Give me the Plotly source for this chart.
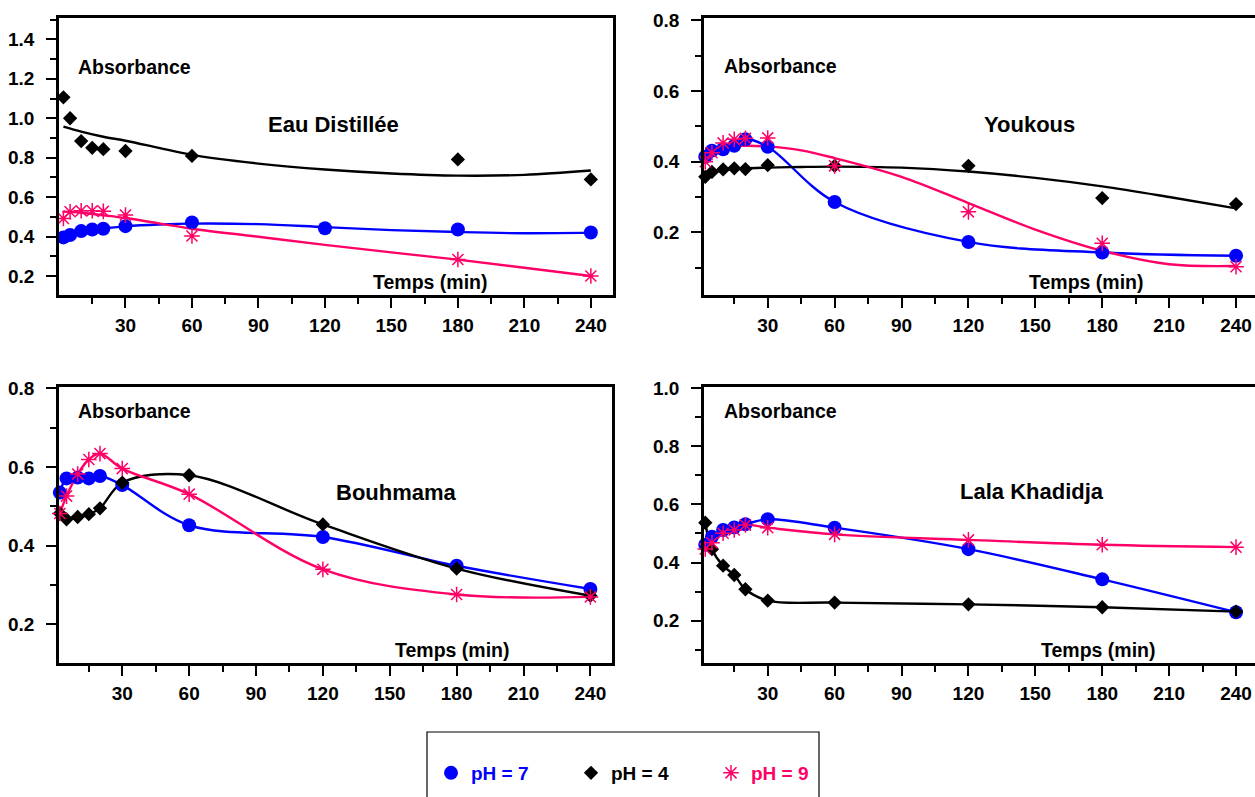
import plotly.graph_objects as go

# ---------------- data ----------------
TIME = [2, 5, 10, 15, 20, 30, 60, 120, 180, 240]
FIT_T = [2, 10, 20, 30, 45, 60, 90, 120, 150, 180, 210, 240]

# Eau Distillée
EAU_PH7 = [0.396, 0.408, 0.428, 0.436, 0.440, 0.453, 0.472, 0.442, 0.436, 0.421]
EAU_PH4 = [1.106, 1.000, 0.884, 0.850, 0.843, 0.834, 0.809, None, 0.791, 0.690]
EAU_PH9 = [0.492, 0.526, 0.531, 0.531, 0.528, 0.509, 0.403, None, 0.284, 0.200]
EAU_PH7_FIT = [0.398, 0.428, 0.442, 0.452, 0.461, 0.466, 0.463, 0.448, 0.433, 0.423, 0.417, 0.420]
EAU_PH4_FIT = [0.957, 0.932, 0.906, 0.886, 0.850, 0.814, 0.770, 0.740, 0.720, 0.709, 0.713, 0.735]
EAU_PH9_FIT = [0.528, 0.521, 0.508, 0.494, 0.467, 0.440, 0.399, 0.358, 0.320, 0.283, 0.242, 0.200]

# Youkous
YOU_PH7 = [0.414, 0.431, 0.435, 0.445, 0.463, 0.442, 0.286, 0.173, 0.143, 0.134]
YOU_PH4 = [0.357, 0.371, 0.378, 0.381, 0.379, 0.390, 0.388, 0.388, 0.297, 0.280]
YOU_PH9 = [0.400, 0.425, 0.453, 0.463, 0.466, 0.467, 0.388, 0.258, 0.169, 0.103]
YOU_PH4_FIT = [0.360, 0.376, 0.381, 0.383, 0.385, 0.386, 0.383, 0.372, 0.354, 0.330, 0.300, 0.268]
YOU_PH9_FIT = [0.437, 0.442, 0.445, 0.443, 0.432, 0.410, 0.357, 0.283, 0.208, 0.148, 0.110, 0.105]

# Bouhmama
BOU_PH7 = [0.535, 0.571, 0.573, 0.571, 0.577, 0.554, 0.452, 0.422, 0.349, 0.290]
BOU_PH4 = [0.482, 0.467, 0.473, 0.480, 0.495, 0.560, 0.579, 0.454, 0.342, 0.273]
BOU_PH9 = [0.482, 0.526, 0.582, 0.619, 0.634, 0.596, 0.531, 0.340, 0.276, 0.270]

# Lala Khadidja
LAL_PH7 = [0.461, 0.489, 0.512, 0.521, 0.532, 0.549, 0.520, 0.446, 0.342, 0.229]
LAL_PH4 = [0.537, 0.446, 0.389, 0.357, 0.308, 0.269, 0.262, 0.256, 0.246, 0.231]
LAL_PH9 = [0.447, 0.468, 0.501, 0.512, 0.529, 0.520, 0.497, 0.478, 0.461, 0.453]

PANEL_TITLES = ["Eau Distillée", "Youkous", "Bouhmama", "Lala Khadidja"]
SERIES_NAMES = ["pH = 7", "pH = 4", "pH = 9"]
X_MAJOR = [30, 60, 90, 120, 150, 180, 210, 240]
X_MINOR = [15, 45, 75, 105, 135, 165, 195, 225]
Y_LABEL = "Absorbance"
X_LABEL = "Temps (min)"

# ---------------- style ----------------
W, H = 1255, 797
FONT = "Liberation Sans, Arial, sans-serif"
BLUE, BLACK, PINK = "#0000FF", "#000000", "#FF0066"
COLORS = [BLUE, BLACK, PINK]

def px_x(p):
    return p / W

def px_y(p):
    return 1 - p / H

panels = [
    dict(data=(EAU_PH7, EAU_PH4, EAU_PH9),
         curves=((FIT_T, EAU_PH7_FIT), (FIT_T, EAU_PH4_FIT), (FIT_T, EAU_PH9_FIT)),
         xd=(59, 613), yd=(18, 295), xr=[0, 250], yr=[0.104, 1.508],
         ymaj=[0.2, 0.4, 0.6, 0.8, 1.0, 1.2, 1.4], ymin=[0.3, 0.5, 0.7, 0.9, 1.1, 1.3, 1.5],
         title=(333.5, 125), absp=(76, 67), temp=(371, 282)),
    dict(data=(YOU_PH7, YOU_PH4, YOU_PH9),
         curves=((TIME, YOU_PH7), (FIT_T, YOU_PH4_FIT), (FIT_T, YOU_PH9_FIT)),
         xd=(704, 1255), yd=(18, 295), xr=[1.43, 248.5], yr=[0.023, 0.806],
         ymaj=[0.2, 0.4, 0.6, 0.8], ymin=[0.1, 0.3, 0.5, 0.7],
         title=(1029, 124), absp=(722, 66), temp=(1027, 282)),
    dict(data=(BOU_PH7, BOU_PH4, BOU_PH9),
         curves=((TIME, BOU_PH7), (TIME, BOU_PH4), (TIME, BOU_PH9)),
         xd=(59, 612), yd=(386.7, 663), xr=[1.62, 249.7], yr=[0.102, 0.804],
         ymaj=[0.2, 0.4, 0.6, 0.8], ymin=[0.3, 0.5, 0.7],
         title=(396, 492), absp=(76, 411), temp=(393, 650)),
    dict(data=(LAL_PH7, LAL_PH4, LAL_PH9),
         curves=((TIME, LAL_PH7), (TIME, LAL_PH4), (TIME, LAL_PH9)),
         xd=(704, 1255), yd=(386.7, 663), xr=[1.43, 248.5], yr=[0.054, 1.0055],
         ymaj=[0.2, 0.4, 0.6, 0.8, 1.0], ymin=[0.1, 0.3, 0.5, 0.7, 0.9],
         title=(1031.5, 491.5), absp=(722, 411), temp=(1039, 650)),
]

MARKERS = [
    dict(symbol="circle", size=14, color=BLUE),
    dict(symbol="diamond", size=11, color=BLACK),
    dict(symbol="asterisk-open", size=13, color=PINK, line=dict(color=PINK, width=1.5)),
]

fig = go.Figure()
annotations = []
layout_axes = {}

for i, p in enumerate(panels):
    n = "" if i == 0 else str(i + 1)
    xa, ya = "x" + n, "y" + n
    for k in range(3):
        cx, cy = p["curves"][k]
        fig.add_trace(go.Scatter(
            x=cx, y=cy, mode="lines", xaxis=xa, yaxis=ya,
            line=dict(color=COLORS[k], width=2.4, shape="spline", smoothing=1.0),
            showlegend=False, hoverinfo="skip", cliponaxis=False, connectgaps=True))
    for k in range(3):
        fig.add_trace(go.Scatter(
            x=TIME, y=p["data"][k], mode="markers", xaxis=xa, yaxis=ya,
            marker=MARKERS[k],
            name="<span style='color:%s'>%s</span>" % (COLORS[k], SERIES_NAMES[k]),
            showlegend=(i == 0), legendrank=k + 1, cliponaxis=False))

    tickfont = dict(family=FONT, size=19, color="black", weight="bold")
    layout_axes["xaxis" + n] = dict(
        domain=[px_x(p["xd"][0]), px_x(p["xd"][1])], range=p["xr"], anchor=ya,
        showline=True, mirror=True, linecolor="black", linewidth=2.5,
        showgrid=False, zeroline=False, automargin=False,
        tickmode="array", tickvals=X_MAJOR, ticks="outside", ticklen=10, tickwidth=2,
        tickcolor="black", tickfont=tickfont, ticklabelstandoff=1,
        minor=dict(tickmode="array", tickvals=X_MINOR, ticks="outside", ticklen=6,
                   tickwidth=2, tickcolor="black", showgrid=False))
    layout_axes["yaxis" + n] = dict(
        domain=[px_y(p["yd"][1]), px_y(p["yd"][0])], range=p["yr"], anchor=xa,
        showline=True, mirror=True, linecolor="black", linewidth=2.5,
        showgrid=False, zeroline=False, automargin=False,
        tickmode="array", tickvals=p["ymaj"], tickformat=".1f",
        ticks="outside", ticklen=10, tickwidth=2, tickcolor="black",
        tickfont=tickfont, ticklabelstandoff=8,
        minor=dict(tickmode="array", tickvals=p["ymin"], ticks="outside", ticklen=6,
                   tickwidth=2, tickcolor="black", showgrid=False))

    annotations.append(dict(
        text=PANEL_TITLES[i], x=px_x(p["title"][0]), y=px_y(p["title"][1]),
        xref="paper", yref="paper", xanchor="center", yanchor="middle", showarrow=False,
        font=dict(family=FONT, size=22, color="black", weight="bold")))
    annotations.append(dict(
        text=Y_LABEL, x=px_x(p["absp"][0]), y=px_y(p["absp"][1]),
        xref="paper", yref="paper", xanchor="left", yanchor="middle", showarrow=False,
        font=dict(family=FONT, size=19.5, color="black", weight="bold")))
    annotations.append(dict(
        text=X_LABEL, x=px_x(p["temp"][0]), y=px_y(p["temp"][1]),
        xref="paper", yref="paper", xanchor="left", yanchor="middle", showarrow=False,
        font=dict(family=FONT, size=19.5, color="black", weight="bold")))

fig.update_layout(
    width=W, height=H, autosize=False,
    margin=dict(l=0, r=0, t=0, b=0, pad=0),
    paper_bgcolor="white", plot_bgcolor="white",
    annotations=annotations,
    showlegend=True,
    legend=dict(orientation="h", x=px_x(431), y=px_y(754), xanchor="left", yanchor="top",
                font=dict(family=FONT, size=19, color="black", weight="bold"),
                entrywidth=95, entrywidthmode="pixels", itemsizing="trace",
                bgcolor="rgba(0,0,0,0)", borderwidth=0, traceorder="normal"),
    shapes=[dict(type="rect", xref="paper", yref="paper",
                 x0=px_x(427), x1=px_x(819), y0=-0.1, y1=px_y(732),
                 line=dict(color="black", width=1.2), fillcolor="rgba(0,0,0,0)")],
    **layout_axes,
)

fig.write_html(
    "out.html",
    config={"displayModeBar": False},
    post_script="document.body.style.margin='0px';document.body.style.padding='0px';"
                "document.body.style.overflow='hidden';",
)
